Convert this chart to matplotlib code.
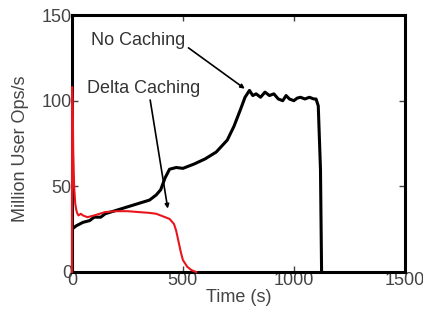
import matplotlib
matplotlib.use('Agg')
import matplotlib.pyplot as plt

# --- data ---
t_nocache = [0, 20, 50, 80, 100, 130, 150, 200, 250, 300, 350, 380, 400, 420,
             440, 470, 500, 550, 600, 650, 700, 730, 760, 780, 800, 815, 830,
             850, 870, 890, 910, 930, 950, 965, 980, 1000, 1015, 1030, 1050,
             1070, 1090, 1100, 1110, 1120, 1125]
v_nocache = [25, 27, 29, 30, 32, 32, 34, 36, 38, 40, 42, 45, 48, 55,
             60, 61, 60.5, 63, 66, 70, 77, 85, 95, 102, 106, 103, 104,
             102, 105, 103, 104, 101, 100, 103, 101, 100, 101.5, 102, 101,
             102, 101, 101, 97, 60, 0]

t_delta = [0, 1, 3, 6, 10, 15, 20, 25, 30, 40, 50, 70, 100, 150, 200, 250, 300,
           350, 380, 400, 420, 440, 460, 470, 480, 490, 500, 520, 540, 560]
v_delta = [0, 108, 100, 70, 50, 40, 36, 34, 33, 34, 33, 32, 33, 35, 35.5,
           35.5, 35, 34.5, 34, 33, 32, 31, 28, 24, 18, 12, 7, 3, 1, 0]

plt.rcParams['font.family'] = ['Liberation Sans', 'DejaVu Sans']
fig, ax = plt.subplots(figsize=(4.23, 3.2), dpi=100)
fig.subplots_adjust(left=0.17, right=0.957, top=0.953, bottom=0.15)

ax.plot(t_nocache, v_nocache, color='black', lw=2.2)
# red trace sits on top of the left spine, like the original
ax.plot(t_delta, v_delta, color='#e8161c', lw=1.5, zorder=3, clip_on=False)

ax.set_xlim(0, 1500)
ax.set_ylim(0, 150)
ax.set_xticks([0, 500, 1000, 1500])
ax.set_yticks([0, 50, 100, 150])
ax.tick_params(direction='in', top=True, right=True, labelsize=13,
               length=4, width=1, colors='#444444', pad=0)
for s in ax.spines.values():
    s.set_linewidth(2.2)

ax.set_xlabel('Time (s)', fontsize=13, color='#444444', labelpad=0)
ax.set_ylabel('Million User Ops/s', fontsize=13, color='#444444')
ax.yaxis.set_label_coords(-0.13, 0.48)

ax.annotate('No Caching', xy=(779, 107), xytext=(88, 135),
            fontsize=13, color='#333333', va='center', ha='left',
            arrowprops=dict(arrowstyle='-|>', color='black', lw=1.2,
                            mutation_scale=6, shrinkA=0, shrinkB=0,
                            relpos=(1.0, 0.2)))
ax.annotate('Delta Caching', xy=(432, 37), xytext=(70, 107),
            fontsize=13, color='#333333', va='center', ha='left',
            arrowprops=dict(arrowstyle='-|>', color='black', lw=1.2,
                            mutation_scale=6, shrinkA=0, shrinkB=0,
                            relpos=(0.55, 0.0)))

fig.savefig('out.png', dpi=100)
